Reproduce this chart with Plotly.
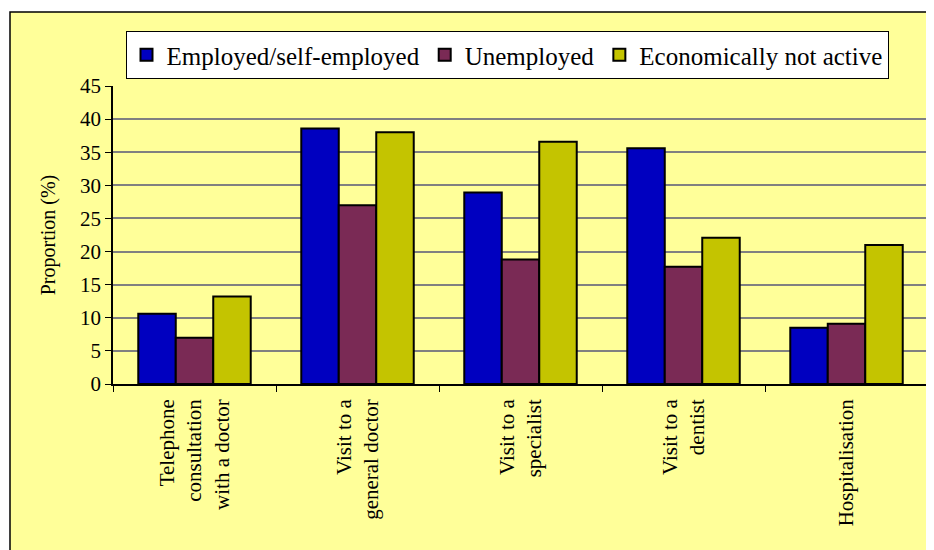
import plotly.graph_objects as go

categories = [
    "Telephone<br>consultation<br>with a doctor",
    "Visit to a<br>general doctor",
    "Visit to a<br>specialist",
    "Visit to a<br>dentist",
    "Hospitalisation",
]
employed = [10.6, 38.6, 28.9, 35.6, 8.5]
unemployed = [7.0, 27.0, 18.8, 17.7, 9.1]
not_active = [13.2, 38.0, 36.6, 22.1, 21.0]
series_names = ["Employed/self-employed", "Unemployed", "Economically not active"]
y_ticks = [0, 5, 10, 15, 20, 25, 30, 35, 40, 45]

colors = ["#0000C0", "#7A2A55", "#C4C400"]
font_family = "Liberation Serif, serif"

# page offset (body margin) of 8px; target plot area x 113..928, y 86..384
OFF = 8
L = 113 - OFF
T = 86 - OFF
R = 934 - (928 - OFF)
B = 550 - (384 - OFF)
W, H = 934 - L - R, 550 - T - B

fig = go.Figure()
for name, vals, col in zip(series_names, [employed, unemployed, not_active], colors):
    fig.add_trace(go.Bar(
        x=categories, y=vals, name=name,
        marker=dict(color=col, line=dict(color="black", width=2)),
    ))

fig.add_shape(type="rect", xref="paper", yref="paper",
              x0=(10 - OFF - L) / W, x1=(960 - L) / W,
              y0=-(B + 20) / H, y1=1 + (T - (12 - OFF)) / H,
              fillcolor="#FFFF99", line=dict(color="black", width=1.5),
              layer="below")

fig.update_layout(
    width=934, height=550,
    margin=dict(l=L, r=R, t=T, b=B),
    paper_bgcolor="white",
    plot_bgcolor="white",
    barmode="group",
    bargap=0.31,
    bargroupgap=0,
    font=dict(family=font_family, size=20, color="black"),
    legend=dict(
        orientation="h", x=(507 - 113) / W, xanchor="center",
        y=1 + (86 - 31) / H, yanchor="top",
        bgcolor="white", bordercolor="black", borderwidth=1,
        font=dict(size=25, family="Liberation Serif"),
        itemwidth=30,
    ),
    showlegend=True,
)
fig.update_yaxes(
    range=[0, 45], tickvals=y_ticks, showgrid=True, gridcolor="#808080", gridwidth=1.5,
    showline=True, linecolor="black", linewidth=1.5,
    ticks="outside", ticklen=6, tickcolor="black",
    tickfont=dict(size=21),
    title=dict(text="Proportion (%)", font=dict(size=20), standoff=19),
    mirror=False, zeroline=False,
)
fig.update_xaxes(
    showline=True, linecolor="black", linewidth=1.5,
    ticks="outside", ticklen=6, tickcolor="black", tickson="boundaries",
    tickangle=-90, tickfont=dict(size=21), ticklabelstandoff=5,
)
fig.add_shape(type="line", xref="paper", yref="paper", x0=1, x1=1, y0=0, y1=1,
              line=dict(color="#808080", width=1.5))

fig.write_html("out.html")
